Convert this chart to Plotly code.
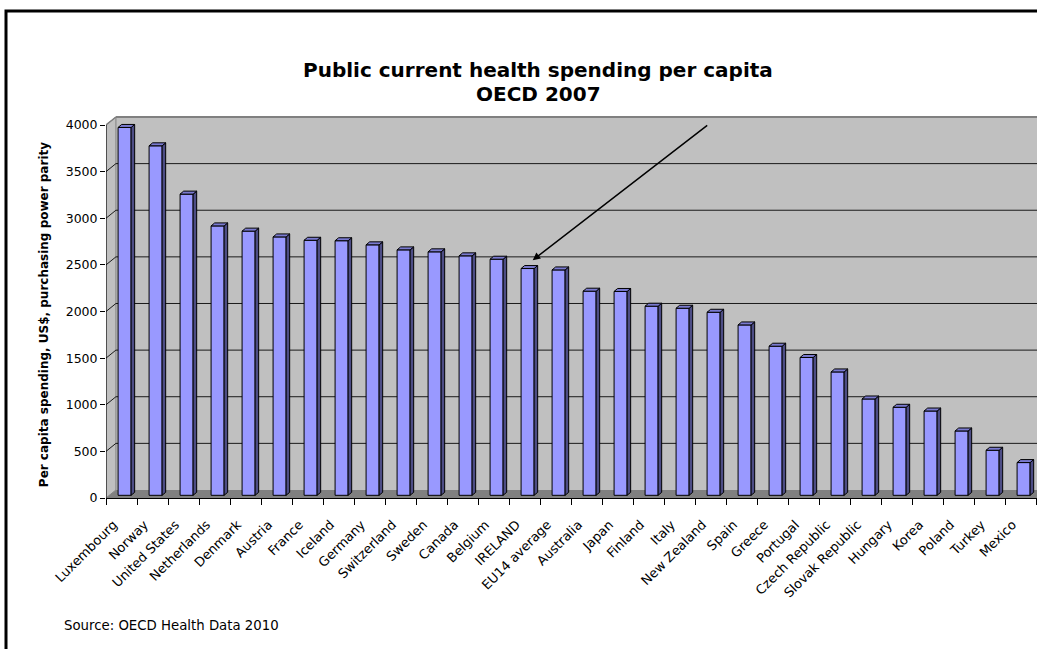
import plotly.graph_objects as go

# ---------------- data ----------------
countries = ["Luxembourg", "Norway", "United States", "Netherlands", "Denmark", "Austria",
             "France", "Iceland", "Germany", "Switzerland", "Sweden", "Canada", "Belgium",
             "IRELAND", "EU14 average", "Australia", "Japan", "Finland", "Italy",
             "New Zealand", "Spain", "Greece", "Portugal", "Czech Republic",
             "Slovak Republic", "Hungary", "Korea", "Poland", "Turkey", "Mexico"]
spending = [3945, 3748, 3230, 2889, 2833, 2771, 2735, 2730, 2686, 2632, 2611, 2568, 2532,
            2432, 2417, 2189, 2186, 2028, 2006, 1963, 1827, 1599, 1478, 1323,
            1033, 944, 904, 690, 483, 351]
y_ticks = [0, 500, 1000, 1500, 2000, 2500, 3000, 3500, 4000]
highlight = "IRELAND"

title_line1 = "Public current health spending per capita"
title_line2 = "OECD 2007"
y_title = "Per capita spending, US$, purchasing power parity"
source_note = "Source: OECD Health Data 2010"

# ---------------- 3-D look geometry (axis units) ----------------
n = len(countries)
idx = list(range(n))
DX, DY = 0.32, 86          # depth of walls
X_END = n + 2              # walls run past the right edge (clipped)
YMAX = y_ticks[-1]
SHIFT = 0.10               # bar front plane shift right
BASE = 29                  # bar front plane shift up
BW = 0.42                  # bar width
BDX, BDY = 0.115, 32       # bar depth

FRONT = "#9999FF"
SIDE = "#4D4D85"
TOP = "#7A7AD0"
WALL = "#C0C0C0"
FLOOR = "#808080"

xc = [i + SHIFT for i in idx]

side_x, side_y, top_x, top_y = [], [], [], []
for x, v in zip(xc, spending):
    xl, xr = x - BW / 2, x + BW / 2
    yt = v + BASE
    side_x += [xr, xr + BDX, xr + BDX, xr, xr, None]
    side_y += [BASE, BASE + BDY, yt + BDY, yt, BASE, None]
    top_x += [xl, xl + BDX, xr + BDX, xr, xl, None]
    top_y += [yt, yt + BDY, yt + BDY, yt, yt, None]

fig = go.Figure()
fig.add_trace(go.Bar(x=xc, y=spending, base=BASE, width=BW,
                     marker=dict(color=FRONT, line=dict(color="black", width=1)),
                     hoverinfo="skip"))
fig.add_trace(go.Scatter(x=side_x, y=side_y, mode="lines", fill="toself", fillcolor=SIDE,
                         line=dict(color="black", width=1), hoverinfo="skip"))
fig.add_trace(go.Scatter(x=top_x, y=top_y, mode="lines", fill="toself", fillcolor=TOP,
                         line=dict(color="black", width=1), hoverinfo="skip"))

shapes = []
x0 = -0.5
# back wall
shapes.append(dict(type="rect", xref="x", yref="y", x0=x0 + DX, x1=X_END, y0=DY, y1=YMAX + DY,
                   fillcolor=WALL, line=dict(width=0), layer="below"))
# left wall
shapes.append(dict(type="path", xref="x", yref="y",
                   path=f"M {x0},0 L {x0 + DX},{DY} L {x0 + DX},{YMAX + DY} L {x0},{YMAX} Z",
                   fillcolor=WALL, line=dict(color="#808080", width=1), layer="below"))
# floor
shapes.append(dict(type="path", xref="x", yref="y",
                   path=f"M {x0},0 L {x0 + DX},{DY} L {X_END},{DY} L {X_END},0 Z",
                   fillcolor=FLOOR, line=dict(width=0), layer="below"))
# gridlines on back + left wall
for g in y_ticks[1:-1]:
    shapes.append(dict(type="line", xref="x", yref="y", x0=x0 + DX, x1=X_END, y0=g + DY, y1=g + DY,
                       line=dict(color="#1a1a1a", width=1), layer="below"))
    shapes.append(dict(type="line", xref="x", yref="y", x0=x0, x1=x0 + DX, y0=g, y1=g + DY,
                       line=dict(color="#1a1a1a", width=1), layer="below"))
# top edge of walls
shapes.append(dict(type="line", xref="x", yref="y", x0=x0 + DX, x1=X_END, y0=YMAX + DY, y1=YMAX + DY,
                   line=dict(color="#808080", width=2), layer="below"))
shapes.append(dict(type="line", xref="x", yref="y", x0=x0, x1=x0 + DX, y0=YMAX, y1=YMAX + DY,
                   line=dict(color="#808080", width=1.5), layer="below"))
# front value axis line
shapes.append(dict(type="line", xref="x", yref="y", x0=x0, x1=x0, y0=0, y1=YMAX,
                   line=dict(color="black", width=1)))

# outer frame
L_MARGIN, T_MARGIN, B_MARGIN = 106, 110, 151.3
PW = 1037 - L_MARGIN
PH = 649 - T_MARGIN - B_MARGIN
def px_x(p):
    return (p - L_MARGIN) / PW
def px_y(p):
    return (649 - B_MARGIN - p) / PH

shapes.append(dict(type="rect", xref="paper", yref="paper", x0=px_x(6), x1=1.3,
                   y0=-1.0, y1=px_y(11), line=dict(color="black", width=3)))

font_family = "DejaVu Sans"
annotations = [
    dict(text=f"<b>{title_line1}</b>", xref="paper", yref="paper", x=px_x(538), y=px_y(70),
         xanchor="center", yanchor="middle", showarrow=False,
         font=dict(family=font_family, size=20, color="black")),
    dict(text=f"<b>{title_line2}</b>", xref="paper", yref="paper", x=px_x(538), y=px_y(94),
         xanchor="center", yanchor="middle", showarrow=False,
         font=dict(family=font_family, size=20, color="black")),
    dict(text=f"<b>{y_title}</b>", xref="paper", yref="paper", x=px_x(44), y=px_y(315),
         xanchor="center", yanchor="middle", textangle=-90, showarrow=False,
         font=dict(family=font_family, size=12, color="black")),
    dict(text=source_note, xref="paper", yref="paper", x=px_x(62), y=px_y(625),
         xanchor="left", yanchor="middle", showarrow=False,
         font=dict(family=font_family, size=13.3, color="black")),
]
hi = countries.index(highlight)
annotations.append(dict(x=hi + SHIFT + 0.165, y=spending[hi] + BASE + 90, xref="x", yref="y",
                        text="", showarrow=True, ax=176, ay=-136, arrowhead=2, arrowsize=1,
                        arrowwidth=1.5, arrowcolor="black"))

LABEL_OFFSET = 0.26  # rotated labels end a little left of the category centre

fig.update_layout(
    width=1037, height=649,
    margin=dict(l=L_MARGIN, r=0, t=T_MARGIN, b=B_MARGIN, autoexpand=False),
    paper_bgcolor="white", plot_bgcolor="white",
    showlegend=False,
    shapes=shapes, annotations=annotations,
    font=dict(family=font_family, size=13, color="black"),
    xaxis=dict(range=[-0.5, n - 0.5 + 1 / 31], tickmode="array",
               tickvals=[i - LABEL_OFFSET for i in idx], ticktext=countries,
               tickangle=-45, ticks="outside", ticklen=13, tickcolor="rgba(0,0,0,0)",
               showgrid=False, zeroline=False, showline=False,
               tickfont=dict(family=font_family, size=13)),
    xaxis2=dict(overlaying="x", anchor="y", side="bottom", range=[-0.5, n - 0.5 + 1 / 31],
                tickmode="array", tickvals=[i - 0.5 for i in idx] + [n - 0.5],
                ticktext=["" for _ in range(n + 1)], ticks="outside", ticklen=6, tickcolor="black",
                showgrid=False, zeroline=False, showline=True, linecolor="black", linewidth=1),
    yaxis=dict(range=[0, 4161], tickmode="array", tickvals=y_ticks, ticks="outside", ticklen=5,
               tickcolor="black", showgrid=False, zeroline=False, showline=False,
               tickfont=dict(family=font_family, size=12.5)),
)
# dummy trace to activate xaxis2
fig.add_trace(go.Scatter(x=[None], y=[None], xaxis="x2", showlegend=False, hoverinfo="skip"))

fig.write_html("out.html", config={"displayModeBar": False},
               post_script="document.body.style.margin='0';document.body.style.overflow='hidden';")
